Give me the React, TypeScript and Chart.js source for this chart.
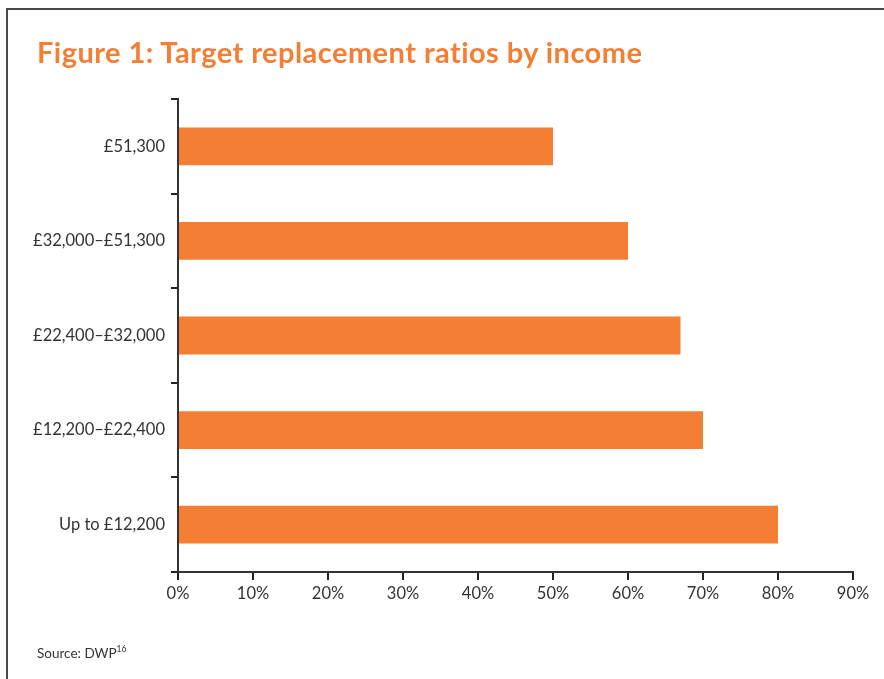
import React, { useEffect, useRef } from "react";
import { Chart, registerables } from "chart.js";

Chart.register(...registerables);

const categories = [
  "£51,300",
  "£32,000–£51,300",
  "£22,400–£32,000",
  "£12,200–£22,400",
  "Up to £12,200",
];
const ratios = [50, 60, 67, 70, 80];
const xTicks = [0, 10, 20, 30, 40, 50, 60, 70, 80, 90];

const ORANGE = "#F47E33";
const FONT = "Lato, 'Open Sans', sans-serif";

export default function App() {
  const ref = useRef<HTMLCanvasElement | null>(null);

  useEffect(() => {
    if (!ref.current) return;
    const chart = new Chart(ref.current, {
      type: "bar",
      data: {
        labels: categories,
        datasets: [
          {
            data: ratios,
            backgroundColor: ORANGE,
            borderWidth: 0,
            barPercentage: 0.8,
            categoryPercentage: 0.5,
          },
        ],
      },
      options: {
        indexAxis: "y",
        animation: false,
        responsive: false,
        maintainAspectRatio: false,
        layout: { padding: { top: 99, right: 31, left: 0, bottom: 0 } },
        plugins: {
          legend: { display: false },
          tooltip: { enabled: false },
          title: { display: false },
        },
        scales: {
          x: {
            min: 0,
            max: 90,
            afterBuildTicks: (s: any) => {
              s.ticks = xTicks.map((v) => ({ value: v }));
            },
            afterFit: (s: any) => {
              s.height = 107;
            },
            border: { display: true, color: "#333", width: 2 },
            grid: {
              display: true,
              drawOnChartArea: false,
              drawTicks: true,
              tickLength: 8,
              color: "#222",
              lineWidth: 2,
            },
            ticks: {
              color: "#333",
              font: { family: FONT, size: 16.5 },
              padding: 4,
              maxRotation: 0,
              callback: (v: any) => `${v}%`,
            },
          },
          y: {
            afterFit: (s: any) => {
              s.width = 178;
            },
            border: { display: true, color: "#333", width: 2 },
            grid: {
              display: true,
              offset: true,
              drawOnChartArea: false,
              drawTicks: true,
              tickLength: 7,
              color: "#222",
              lineWidth: 2,
            },
            ticks: {
              color: "#333",
              font: { family: FONT, size: 16.5 },
              padding: 6,
            },
          },
        },
      },
    });
    return () => chart.destroy();
  }, []);

  return (
    <div
      style={{
        position: "fixed",
        left: 0,
        top: 0,
        width: 884,
        height: 679,
        background: "#fff",
        overflow: "hidden",
      }}
    >
      <div
        style={{
          position: "absolute",
          left: 6,
          top: 8,
          width: 900,
          height: 700,
          borderLeft: "2px solid #4a4a4a",
          borderTop: "2px solid #4a4a4a",
        }}
      />
      <canvas
        ref={ref}
        width={884}
        height={679}
        style={{ position: "absolute", left: 0, top: 0 }}
      />
      <div
        style={{
          position: "absolute",
          left: 37,
          top: 34,
          fontFamily: FONT,
          fontWeight: 700,
          fontSize: 29,
          letterSpacing: 0.45,
          color: ORANGE,
          whiteSpace: "nowrap",
          lineHeight: "36px",
        }}
      >
        Figure 1: Target replacement ratios by income
      </div>
      <div
        style={{
          position: "absolute",
          left: 37,
          top: 640,
          fontFamily: FONT,
          fontSize: 13.5,
          color: "#333",
          whiteSpace: "nowrap",
          lineHeight: "18px",
        }}
      >
        Source: DWP<sup style={{ fontSize: 8.5 }}>16</sup>
      </div>
    </div>
  );
}
